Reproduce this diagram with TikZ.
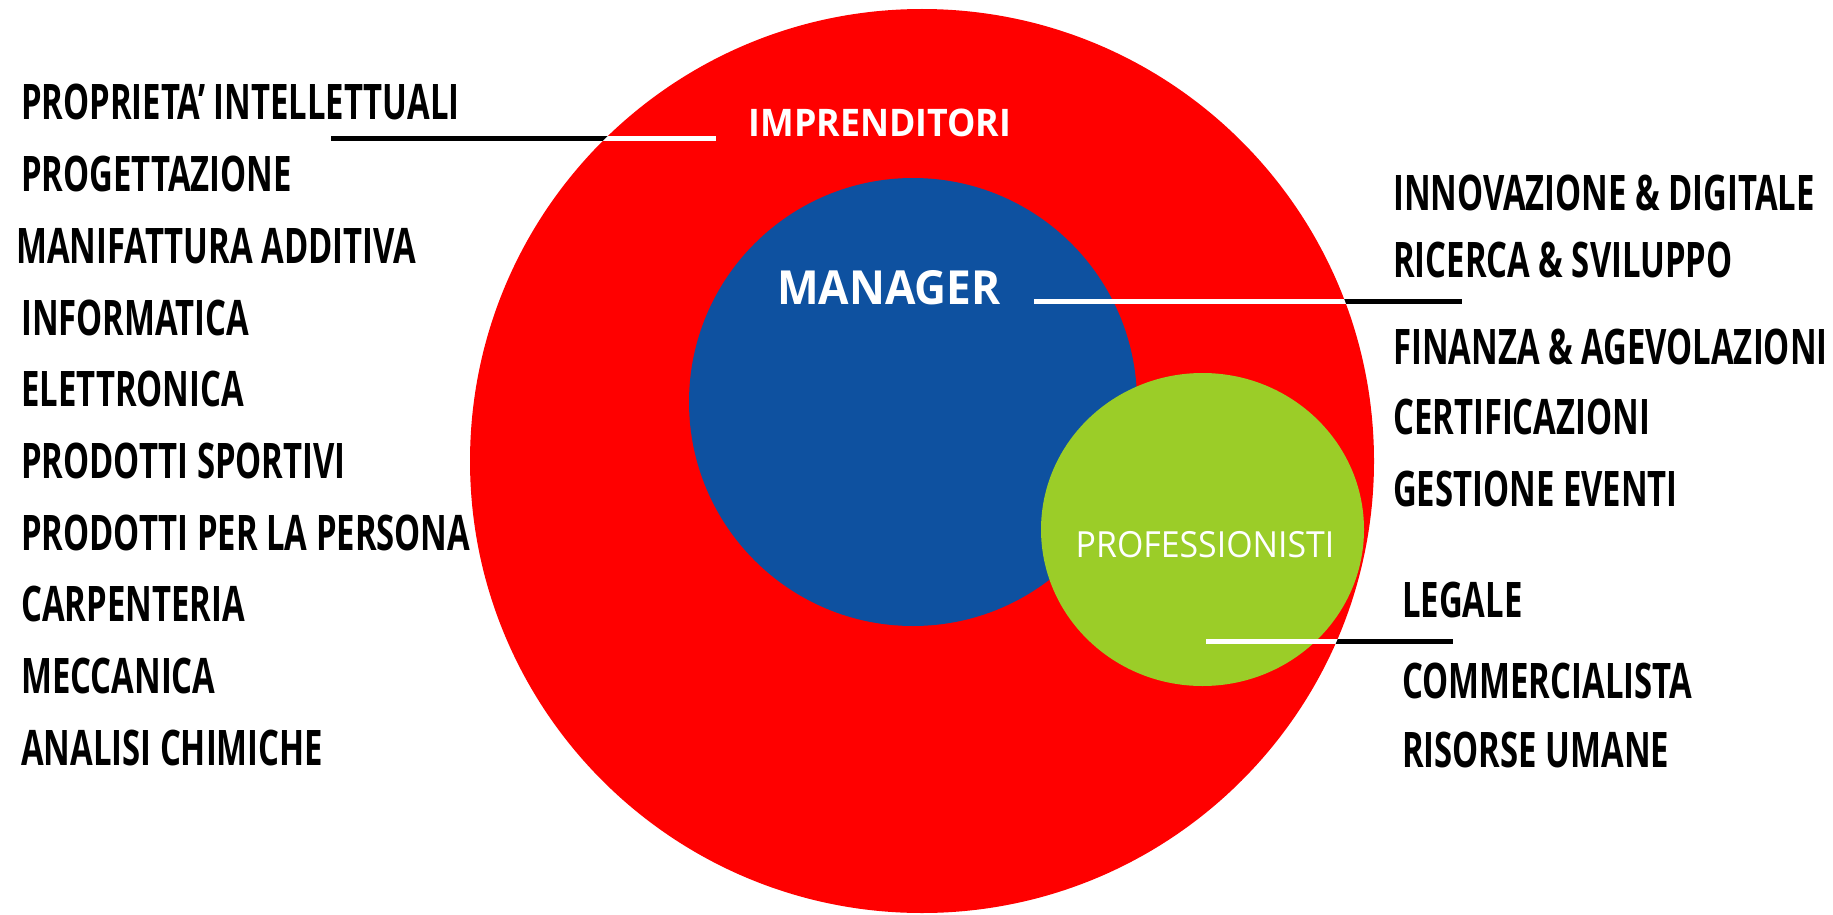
\documentclass[tikz,border=0pt]{standalone}
\usepackage{fontspec}
\setmainfont{Open Sans}
\newfontfamily\condfont[FakeStretch=0.67]{Open Sans}
\newfontfamily\innerfont[FakeStretch=0.94]{Open Sans}
\usetikzlibrary{shapes.geometric}
\definecolor{redc}{RGB}{255,0,0}
\definecolor{bluec}{RGB}{14,81,160}
\definecolor{greenc}{RGB}{155,205,40}
\tikzset{
  item/.style={anchor=base west, inner sep=0pt, text=black,
    font=\condfont\bfseries\fontsize{49}{49}\selectfont},
  inlabel/.style={anchor=base, inner sep=0pt, text=white},
  leader/.style={line width=5pt},
}
\begin{document}
\begin{tikzpicture}[x=1pt,y=-1pt]
\useasboundingbox (0,0) rectangle (1833,915);
% circles
\node[circle, fill=redc, draw=none, minimum size=904pt, inner sep=0pt] (imp) at (922,461) {};
\node[circle, fill=bluec, draw=none, minimum size=448pt, inner sep=0pt] (man) at (913,402) {};
\node[ellipse, fill=greenc, draw=none, minimum width=323pt, minimum height=313pt, inner sep=0pt] (pro) at (1202.5,529.5) {};
% leader lines
\coordinate (l1a) at (331,139);  \coordinate (l1b) at (716,139);
\coordinate (l2a) at (1034,301); \coordinate (l2b) at (1462,301);
\coordinate (l3a) at (1206,641); \coordinate (l3b) at (1453,641);
\draw[leader, black] (l1a) -- (l1b);
\draw[leader, black] (l2a) -- (l2b);
\draw[leader, black] (l3a) -- (l3b);
\begin{scope}
  \clip (922,461) circle[radius=452];
  \draw[leader, white] (l1a) -- (l1b);
  \draw[leader, white] (l2a) -- (l2b);
  \draw[leader, white] (l3a) -- (l3b);
\end{scope}
% inner labels
\node[inlabel, font=\innerfont\bfseries\fontsize{38}{38}\selectfont] (timp) at (880,137) {IMPRENDITORI};
\node[inlabel, font=\innerfont\bfseries\fontsize{47}{47}\selectfont] (tman) at (889,304) {MANAGER};
\node[inlabel, font=\innerfont\fontsize{36}{36}\selectfont] (tpro) at (1205,557) {PROFESSIONISTI};
% left list
\node[item] (a1) at (21,120.0) {PROPRIETA’ INTELLETTUALI};
\node[item] (a2) at (21,191.7) {PROGETTAZIONE};
\node[item] (a3) at (16,263.4) {MANIFATTURA ADDITIVA};
\node[item] (a4) at (21,335.1) {INFORMATICA};
\node[item] (a5) at (21,406.8) {ELETTRONICA};
\node[item] (a6) at (21,478.5) {PRODOTTI SPORTIVI};
\node[item] (a7) at (21,550.2) {PRODOTTI PER LA PERSONA};
\node[item] (a8) at (21,621.9) {CARPENTERIA};
\node[item] (a9) at (21,693.6) {MECCANICA};
\node[item] (a10) at (21,765.3) {ANALISI CHIMICHE};
% right list
\node[item] (b1) at (1393,210.5) {INNOVAZIONE \& DIGITALE};
\node[item] (b2) at (1393,277.5) {RICERCA \& SVILUPPO};
\node[item] (b3) at (1393,364.5) {FINANZA \& AGEVOLAZIONI};
\node[item] (b4) at (1393,434.5) {CERTIFICAZIONI};
\node[item] (b5) at (1393,506.5) {GESTIONE EVENTI};
\node[item] (b6) at (1402,617.5) {LEGALE};
\node[item] (b7) at (1402,698.5) {COMMERCIALISTA};
\node[item] (b8) at (1402,767.5) {RISORSE UMANE};
\end{tikzpicture}
\end{document}
